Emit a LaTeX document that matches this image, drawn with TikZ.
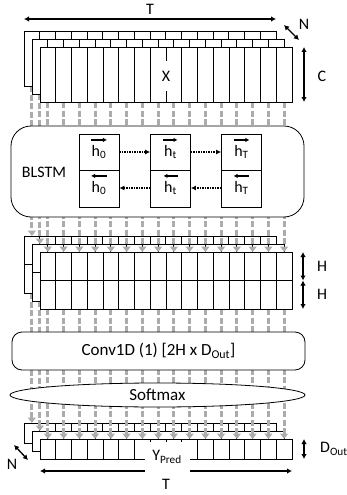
\documentclass[tikz,border=0pt]{standalone}
\usepackage{fontspec}
\setmainfont{Carlito}
\usetikzlibrary{arrows.meta,calc,shapes.geometric}
\definecolor{flowgray}{RGB}{172,172,172}
\newcommand\mklayer[5]{%
  \node[lay,minimum height=#4] (#1) at (#2,#3) {};
  \foreach \k in {1,...,15}{\draw[blk] ($(#1.north west)+(\k*15.75,0)$) -- ($(#1.south west)+(\k*15.75,0)$);}
  \ifnum#5=2\relax \draw[blk] (#1.west) -- (#1.east);\fi
}
\newcommand\ghostlayer[4]{\path node[lay,draw=none,fill=none,minimum height=#4] (#1) at (#2,#3) {};}
\begin{document}
\begin{tikzpicture}[x=1pt,y=-1pt,
  blk/.style={line width=0.8pt},
  lay/.style={draw,fill=white,line width=0.8pt,minimum width=252pt,anchor=north west,inner sep=0pt,outer sep=0pt},
  flow/.style={draw=flowgray,line width=3pt,dash pattern=on 6pt off 2.5pt},
  flowh/.style={flow,-{Triangle[width=8pt,length=5.5pt]}},
  dimarr/.style={line width=1.3pt,{Latex[length=5pt,width=5.5pt]}-{Latex[length=5pt,width=5.5pt]}},
  lbl/.style={font=\fontsize{16}{18}\selectfont,inner sep=1pt},
  big/.style={font=\fontsize{17}{20}\selectfont},
  cell/.style={draw,line width=0.8pt,minimum width=40pt,minimum height=73pt,inner sep=0pt},
  hl/.style={font=\fontsize{16}{18}\selectfont,inner sep=1pt},
  vecr/.style={line width=1.2pt,-{Latex[length=4pt,width=4.5pt]}},
  vecl/.style={line width=1.2pt,{Latex[length=4pt,width=4.5pt]}-},
  dotarr/.style={line width=1.5pt,dash pattern=on 1.5pt off 1pt,-{Latex[length=5pt,width=5pt]}}]
\useasboundingbox (0,0) rectangle (347,495);

% ---- placeholders for the H stack (drawn later)
\ghostlayer{hB}{24}{236}{57pt}
\ghostlayer{hM}{32}{244}{57pt}
\ghostlayer{hF}{40}{252}{57pt}

% ---- output stack Y
\mklayer{yB}{24}{423}{20pt}{1}
\mklayer{yM}{32}{431}{20pt}{1}
\mklayer{yF}{40}{439}{20pt}{1}

% ---- flows H -> Conv -> Softmax -> Y
\draw[flowh] ($(hB.south west)+(7.875,0)$) -- ($(yB.north west)+(7.875,0)$);
\draw[flowh] ($(hM.south west)+(7.875,0)$) -- ($(yM.north west)+(7.875,0)$);
\foreach \k in {0,...,15}{\draw[flowh] ($(hF.south west)+(\k*15.75+7.875,0)$) -- ($(yF.north west)+(\k*15.75+7.875,0)$);}

% ---- H stack
\mklayer{hB}{24}{236}{57pt}{2}
\mklayer{hM}{32}{244}{57pt}{2}
\mklayer{hF}{40}{252}{57pt}{2}

% ---- placeholders for input stack
\ghostlayer{inB}{24}{31}{55pt}
\ghostlayer{inM}{32}{39}{55pt}
\ghostlayer{inF}{40}{47}{55pt}

% ---- flows input -> BLSTM -> H
\draw[flowh] ($(inB.south west)+(7.875,0)$) -- ($(hB.north west)+(7.875,0)$);
\draw[flowh] ($(inM.south west)+(7.875,0)$) -- ($(hM.north west)+(7.875,0)$);
\foreach \k in {0,...,15}{\draw[flowh] ($(inF.south west)+(\k*15.75+7.875,0)$) -- ($(hF.north west)+(\k*15.75+7.875,0)$);}

% ---- input stack
\mklayer{inB}{24}{31}{55pt}{1}
\mklayer{inM}{32}{39}{55pt}{1}
\mklayer{inF}{40}{47}{55pt}{1}
\node[lbl,fill=white,inner xsep=2pt,minimum height=30pt] (X) at (166,76) {X};

% ---- BLSTM
\node[draw,fill=white,line width=0.8pt,rounded corners=20pt,minimum width=293pt,minimum height=91pt] (blstm) at (157.5,171.5) {};
\node[lbl] (blstmlbl) at (44,172) {BLSTM};
\node[cell] (c0) at (99,170.5) {};
\node[cell] (ct) at (170.5,170.5) {};
\node[cell] (cT) at (241.5,170.5) {};
\foreach \c in {c0,ct,cT}{\draw[blk] (\c.west) -- (\c.east);}
\node[hl] (h0f) at (99,152) {h\textsubscript{0}};
\node[hl] (htf) at (170.5,152) {h\textsubscript{t}};
\node[hl] (hTf) at (241.5,152) {h\textsubscript{T}};
\node[hl] (h0b) at (99,188) {h\textsubscript{0}};
\node[hl] (htb) at (170.5,188) {h\textsubscript{t}};
\node[hl] (hTb) at (241.5,188) {h\textsubscript{T}};
\foreach \h in {h0f,htf,hTf}{\draw[vecr] ($(\h.north west)+(0.5,-4)$) -- ($(\h.north east)+(-0.5,-4)$);}
\foreach \h in {h0b,htb,hTb}{\draw[vecl] ($(\h.north west)+(0.5,-4)$) -- ($(\h.north east)+(-0.5,-4)$);}
\draw[dotarr] ($(c0.east)+(0,-18.5)$) -- ($(ct.west)+(0,-18.5)$);
\draw[dotarr] ($(ct.east)+(0,-18.5)$) -- ($(cT.west)+(0,-18.5)$);
\draw[dotarr] ($(cT.west)+(0,17.5)$) -- ($(ct.east)+(0,17.5)$);
\draw[dotarr] ($(ct.west)+(0,17.5)$) -- ($(c0.east)+(0,17.5)$);

% ---- Conv1D and Softmax
\node[draw,fill=white,line width=0.8pt,rounded corners=10pt,minimum width=293pt,minimum height=38pt,big] (conv) at (158.5,351) {Conv1D (1) [2H x D\textsubscript{Out}]};
\node[ellipse,draw,fill=white,line width=0.8pt,minimum width=295pt,minimum height=24pt,inner sep=0pt,big] (soft) at (157.5,395) {Softmax};

% ---- dimension arrows and labels
\coordinate (tA) at ($(inB.north west)+(0,-12)$);
\coordinate (tB) at ($(inB.north east)+(0,-12)$);
\draw[dimarr] (tA) -- (tB);
\node[lbl] (Ttop) at (150,9) {T};
\coordinate (nA) at ($(inB.north east)+(8,-6)$);
\coordinate (nB) at ($(inB.north east)+(23,9)$);
\draw[dimarr] (nA) -- (nB);
\node[lbl] (Ntop) at (304,24) {N};
\coordinate (cA) at ($(inF.north east)+(12,0)$);
\coordinate (cB) at ($(inF.south east)+(12,0)$);
\draw[dimarr] (cA) -- (cB);
\node[lbl] (Clbl) at (322,76) {C};
\coordinate (hA) at ($(hF.north east)+(11,0)$);
\coordinate (hMid) at ($(hF.east)+(11,0)$);
\coordinate (hZ) at ($(hF.south east)+(11,0)$);
\draw[dimarr] (hA) -- (hMid);
\draw[dimarr] (hMid) -- (hZ);
\node[lbl] (H1) at (322,266) {H};
\node[lbl] (H2) at (322,294) {H};
\coordinate (dA) at ($(yF.north east)+(12,0)$);
\coordinate (dB) at ($(yF.south east)+(12,0)$);
\draw[dimarr] (dA) -- (dB);
\node[lbl,anchor=west] (Dlbl) at (319,449) {D\textsubscript{Out}};
\coordinate (bA) at ($(yF.south west)+(0,12)$);
\coordinate (bB) at ($(yF.south east)+(0,12)$);
\draw[dimarr] (bA) -- (bB);
\node[lbl] (Tbot) at (166,484) {T};
\coordinate (mA) at ($(yB.south west)+(-10,2)$);
\coordinate (mB) at ($(yB.south west)+(4,17)$);
\draw[dimarr] (mA) -- (mB);
\node[lbl] (Nbot) at (12,464) {N};
\node[lbl,fill=white,minimum width=45pt,minimum height=30pt] (ypred) at (167,457) {Y\textsubscript{Pred}};
\end{tikzpicture}
\end{document}
